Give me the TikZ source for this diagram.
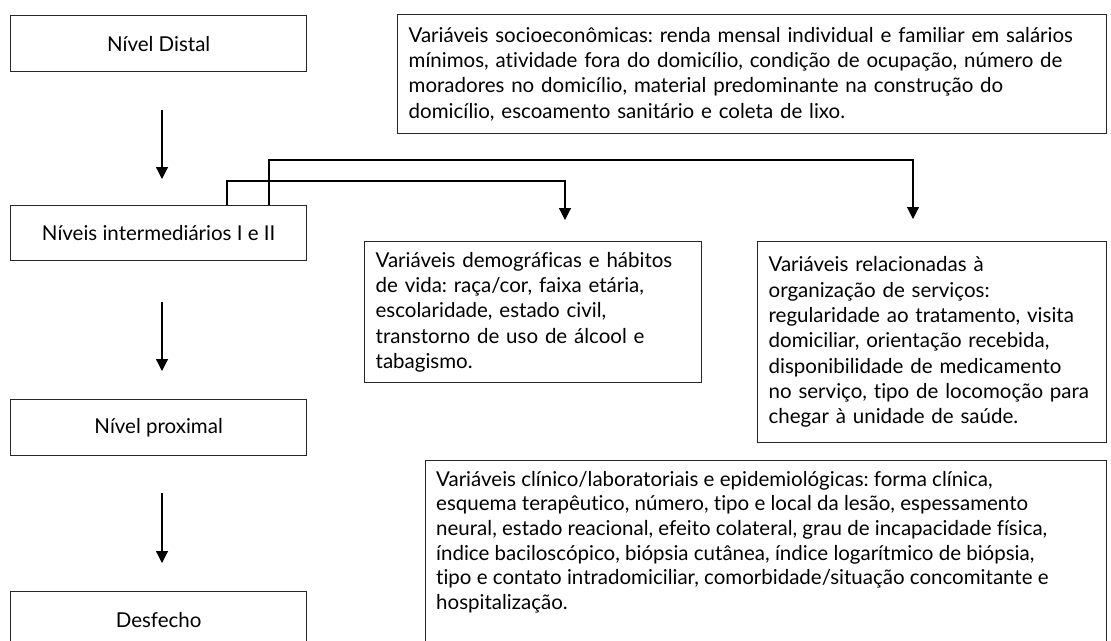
\documentclass[tikz,border=0pt]{standalone}
\usepackage{fontspec}
\setmainfont{Lato}[Ligatures={NoCommon}]
\usetikzlibrary{arrows.meta}
\frenchspacing
\begin{document}
\begin{tikzpicture}[x=1pt,y=-1pt,
  box/.style={draw=black!85,line width=1.3pt,inner sep=0pt,font=\fontsize{20.5}{25.3}\selectfont},
  lvl/.style={box,minimum width=296pt,minimum height=56pt,anchor=north west,font=\fontsize{20.5}{24}\selectfont},
  txt/.style={box,anchor=north west,align=left,inner xsep=11pt},
  plain/.style={anchor=north west,align=left,inner sep=0pt,font=\fontsize{20.5}{24.6}\selectfont},
  arr/.style={line width=1.2pt,-{Triangle[width=12pt,length=12pt]}}]
\useasboundingbox (0,0) rectangle (1111,640);
\clip (0,0) rectangle (1111,640);
% left column
\node[lvl] (distal) at (10,15) {Nível Distal};
\node[lvl,minimum height=55pt] (niveis) at (10,205) {Níveis intermediários I e II};
\node[lvl] (proximal) at (10,399) {Nível proximal};
\node[lvl] (desfecho) at (10,591) {Desfecho};
% right boxes
\node[txt,text width=687pt,minimum height=119pt] (socio) at (397,14) {\mbox{Variáveis socioeconômicas: renda mensal individual e familiar em salários}\\\mbox{mínimos, atividade fora do domicílio, condição de ocupação, número de}\\\mbox{moradores no domicílio, material predominante na construção do}\\\mbox{domicílio, escoamento sanitário e coleta de lixo.}};
\node[txt,text width=315pt,minimum height=141pt] (demo) at (364,241) {\mbox{Variáveis demográficas e hábitos}\\\mbox{de vida: raça/cor, faixa etária,}\\\mbox{escolaridade, estado civil,}\\\mbox{transtorno de uso de álcool e}\\\mbox{tabagismo.}};
\node[txt,text width=327pt,minimum height=201pt] (serv) at (757,241) {\mbox{Variáveis relacionadas à}\\\mbox{organização de serviços:}\\\mbox{regularidade ao tratamento, visita}\\\mbox{domiciliar, orientação recebida,}\\\mbox{disponibilidade de medicamento}\\\mbox{no serviço, tipo de locomoção para}\\\mbox{chegar à unidade de saúde.}};
\node[box,anchor=north west,minimum width=681pt,minimum height=200pt] (clin) at (425,460) {};
\node[plain] (clintxt) at ([xshift=11pt,yshift=-11pt]clin.north west) {Variáveis clínico/laboratoriais e epidemiológicas: forma clínica,\\esquema terapêutico, número, tipo e local da lesão, espessamento\\neural, estado reacional, efeito colateral, grau de incapacidade física,\\índice baciloscópico, biópsia cutânea, índice logarítmico de biópsia,\\tipo e contato intradomiciliar, comorbidade/situação concomitante e\\hospitalização.};
% vertical arrows (free ends)
\coordinate (a1s) at (162,110); \coordinate (a1e) at (162,179);
\coordinate (a2s) at (162,302); \coordinate (a2e) at (162,371);
\coordinate (a3s) at (162,493); \coordinate (a3e) at (162,563);
\draw[arr] (a1s) -- (a1e);
\draw[arr] (a2s) -- (a2e);
\draw[arr] (a3s) -- (a3e);
% branch connectors
\coordinate (b1) at ([xshift=217pt]niveis.north west);
\coordinate (b2) at ([xshift=259pt]niveis.north west);
\coordinate (demotip) at (565,220);
\coordinate (servtip) at (913,219);
\draw[arr] (b1) |- (demotip |- 0,181) -- (demotip);
\draw[arr] (b2) |- (servtip |- 0,160) -- (servtip);
\end{tikzpicture}
\end{document}
